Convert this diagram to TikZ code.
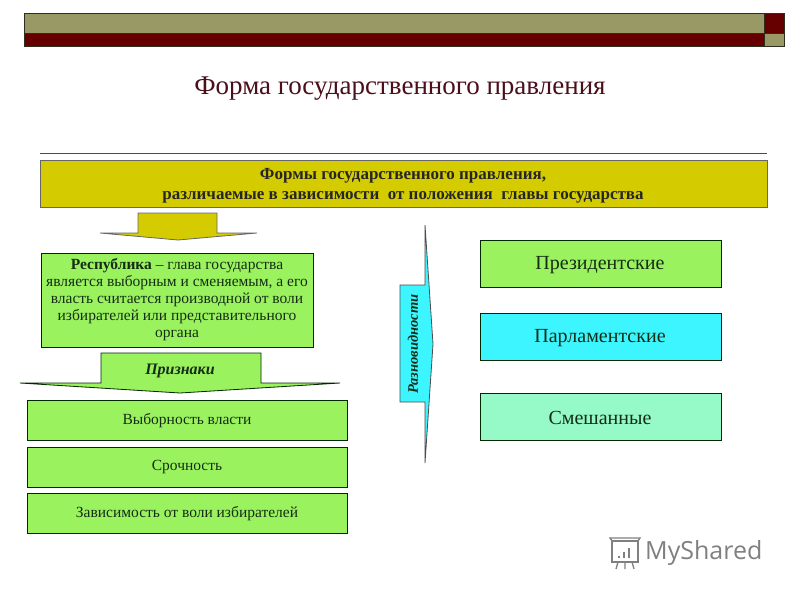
\documentclass[tikz,border=0pt]{standalone}
\usepackage{fontspec}
\setmainfont{Liberation Serif}
\newfontfamily\logofont{Open Sans}
\begin{document}
\begin{tikzpicture}[x=1pt,y=-1pt,
  boxg/.style={draw=black!60!green!40!black,line width=0.8pt,fill=grn},
  lbl/.style={inner sep=0pt,align=center,text=txt},
]
\definecolor{olive}{RGB}{153,153,102}
\definecolor{dred}{RGB}{102,0,0}
\definecolor{ttl}{RGB}{75,15,25}
\definecolor{ylw}{RGB}{212,204,0}
\definecolor{grn}{RGB}{155,242,95}
\definecolor{cyn}{RGB}{60,245,255}
\definecolor{mnt}{RGB}{150,250,200}
\definecolor{txt}{RGB}{20,45,20}
\useasboundingbox (0,0) rectangle (800,600);
\fill[white] (0,0) rectangle (800,600);
% top bar
\draw[fill=olive,draw=black!70!olive,line width=0.5pt] (24,13) rectangle (764,33);
\draw[fill=dred,draw=black!70!olive,line width=0.5pt] (24,33) rectangle (764,46);
\draw[fill=dred,draw=black!70!olive,line width=0.5pt] (764,13) rectangle (784,33);
\draw[fill=olive,draw=black!70!olive,line width=0.5pt] (764,33) rectangle (784,46);
% title
\node[inner sep=0pt,text=ttl,font=\fontsize{27}{30}\selectfont] (title) at (400,89) {Форма государственного правления};
% rule
\coordinate (r1) at (40,153);
\coordinate (r2) at (767,153);
\draw[black!70,line width=0.8pt] (r1) -- (r2);
% banner
\draw[fill=ylw,draw=black!60,line width=0.8pt] (40,160) rectangle (767,207);
\node[lbl,text=black!85,font=\bfseries\fontsize{17}{20}\selectfont,align=center] (banner) at (403,186) {Формы государственного правления,\\различаемые в зависимости \ от положения \ главы государства};
% down arrow below banner
\draw[fill=ylw,draw=black!60,line width=0.8pt] (138,213) -- (217,213) -- (217,233) -- (257,233) -- (178,240) -- (100,233) -- (138,233) -- cycle;
% republic box
\draw[boxg] (41,253) rectangle (313,347);
\node[lbl,font=\fontsize{15.5}{17}\selectfont] (rep) at (177,300) {\textbf{Республика} -- глава государства\\является выборным и сменяемым, а его\\ власть считается производной от воли\\избирателей или представительного\\органа};
% Priznaki callout
\draw[boxg] (101,353) -- (261,353) -- (261,383) -- (340,383) -- (180,393) -- (20,383) -- (101,383) -- cycle;
\node[lbl,font=\bfseries\itshape\fontsize{16}{18}\selectfont] (priz) at (180,371) {Признаки};
% lower boxes
\draw[boxg] (27,400) rectangle (347,440);
\node[lbl,font=\fontsize{15.5}{18}\selectfont] (b1) at (187,421) {Выборность власти};
\draw[boxg] (27,447) rectangle (347,487);
\node[lbl,font=\fontsize{15.5}{18}\selectfont] (b2) at (187,467) {Срочность};
\draw[boxg] (27,493) rectangle (347,533);
\node[lbl,font=\fontsize{15.5}{18}\selectfont] (b3) at (187,514) {Зависимость от воли избирателей};
% vertical callout
\draw[fill=cyn,draw=black!70,line width=0.8pt] (400,285) -- (425,285) -- (425,225) -- (433,344) -- (425,463) -- (425,402) -- (400,402) -- cycle;
\node[lbl,rotate=90,font=\bfseries\itshape\fontsize{14.5}{16}\selectfont] (razn) at (413,344) {Разновидности};
% right boxes
\draw[boxg] (480,240) rectangle (721,287);
\node[lbl,font=\fontsize{20}{22}\selectfont] (p1) at (600,265) {Президентские};
\draw[boxg,fill=cyn] (480,313) rectangle (721,360);
\node[lbl,font=\fontsize{20}{22}\selectfont] (p2) at (600,338) {Парламентские};
\draw[boxg,fill=mnt] (480,393) rectangle (721,440);
\node[lbl,font=\fontsize{20}{22}\selectfont] (p3) at (600,418) {Смешанные};
% watermark
\begin{scope}[draw=black!50,line width=1.3pt]
\draw (612,541) rectangle (638,562);
\draw (612,541) -- (610,538) -- (640,538) -- (638,541);
\draw (619,556) -- (619,558) (624,552) -- (624,558) (629,548) -- (629,558);
\draw (618,562) -- (616,569) (625,562) -- (625,569) (632,562) -- (634,569);
\end{scope}
\node[inner sep=0pt,anchor=west,text=black!50,font=\logofont\fontsize{25}{28}\selectfont] (logo) at (645,553) {MyShared};
\end{tikzpicture}
\end{document}
